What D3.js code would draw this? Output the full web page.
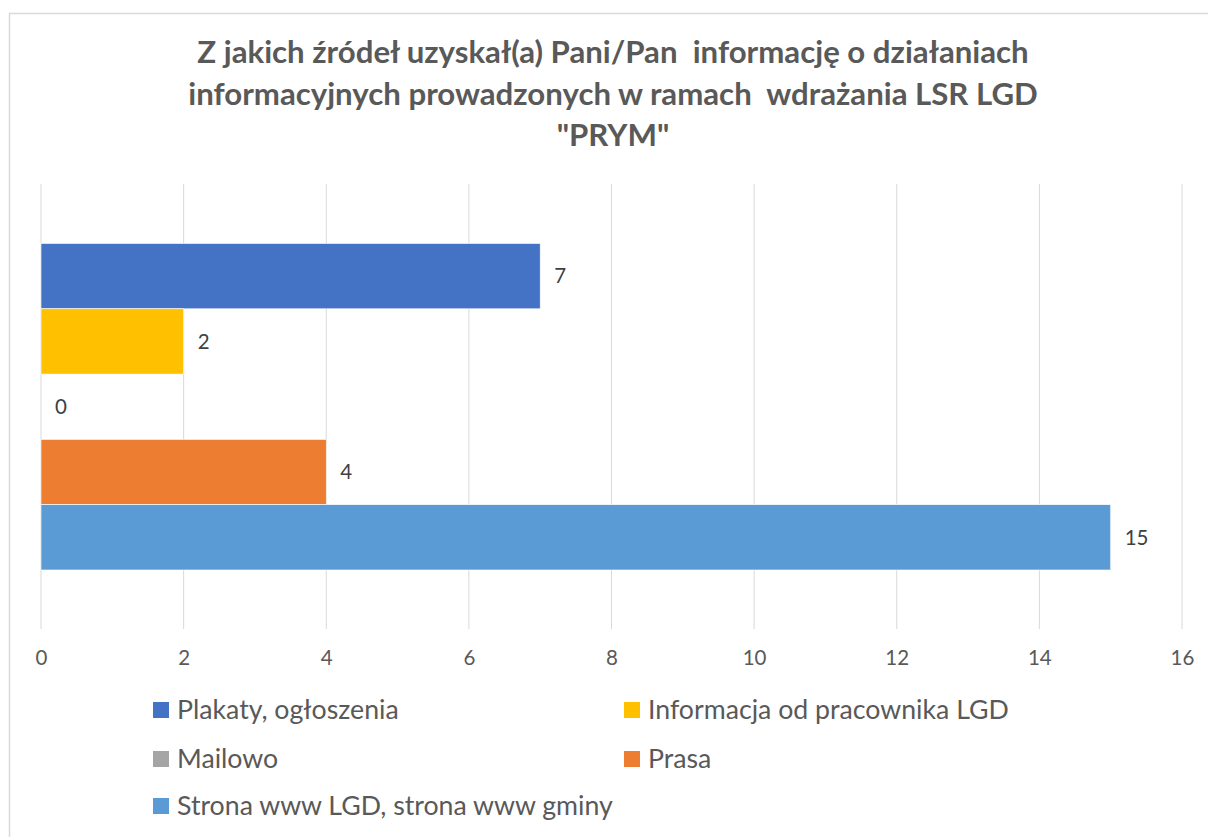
<!DOCTYPE html>
<html>
<head>
<meta charset="utf-8">
<script src="https://cdn.jsdelivr.net/npm/d3@7"></script>
<style>
  html, body { margin: 0; padding: 0; background: #fff; }
  svg { display: block; }
  text { font-family: Lato, "Open Sans", sans-serif; }
</style>
</head>
<body>
<svg id="chart" width="1208" height="837"></svg>
<script>
const titleLines = [
  "Z jakich źródeł uzyskał(a) Pani/Pan  informację o działaniach",
  "informacyjnych prowadzonych w ramach  wdrażania LSR LGD",
  "\"PRYM\""
];
const seriesNames = [
  "Plakaty, ogłoszenia",
  "Informacja od pracownika LGD",
  "Mailowo",
  "Prasa",
  "Strona www LGD, strona www gminy"
];
const seriesValues = [7, 2, 0, 4, 15];
const seriesColors = ["#4472C4", "#FFC000", "#A5A5A5", "#ED7D31", "#5B9BD5"];
const xTicks = [0, 2, 4, 6, 8, 10, 12, 14, 16];

const svg = d3.select("#chart");
const W = 1208, H = 837;

// chart border
svg.append("rect")
  .attr("x", 9.5).attr("y", 13.5)
  .attr("width", W + 10).attr("height", H + 10)
  .attr("fill", "#fff").attr("stroke", "#D9D9D9").attr("stroke-width", 1.5);

// title
const title = svg.append("text")
  .attr("text-anchor", "middle")
  .attr("fill", "#595959")
  .attr("font-weight", "bold")
  .attr("font-size", 31.2)
  .style("white-space", "pre");
titleLines.forEach((t, i) => {
  title.append("tspan").attr("x", 613).attr("y", 63 + i * 41.5).text(t);
});

// scales
const x = d3.scaleLinear().domain([0, 16]).range([41, 1182]);
const plotTop = 184, plotBottom = 629;
const y = d3.scaleBand().domain(seriesNames).range([243.5, 570]).padding(0);

// gridlines
svg.append("g")
  .selectAll("line")
  .data(xTicks)
  .join("line")
  .attr("x1", d => x(d)).attr("x2", d => x(d))
  .attr("y1", plotTop).attr("y2", plotBottom)
  .attr("stroke", "#D9D9D9").attr("stroke-width", 1);

// bars
const data = seriesNames.map((n, i) => ({ name: n, value: seriesValues[i], color: seriesColors[i] }));
svg.append("g")
  .selectAll("rect")
  .data(data.filter(d => d.value > 0))
  .join("rect")
  .attr("x", x(0))
  .attr("y", d => y(d.name))
  .attr("width", d => x(d.value) - x(0))
  .attr("height", y.bandwidth())
  .attr("fill", d => d.color)
  .attr("stroke", "#fff").attr("stroke-width", 0.6);

// data labels
svg.append("g")
  .selectAll("text")
  .data(data)
  .join("text")
  .attr("x", d => x(d.value) + 14)
  .attr("y", d => y(d.name) + y.bandwidth() / 2)
  .attr("dy", "0.35em")
  .attr("fill", "#404040")
  .attr("font-size", 20.5)
  .text(d => d.value);

// x axis labels
const xAxis = d3.axisBottom(x).tickValues(xTicks).tickSize(0).tickPadding(0);
const gx = svg.append("g").attr("transform", `translate(0, ${plotBottom})`).call(xAxis);
gx.select(".domain").remove();
gx.selectAll("text")
  .attr("y", 36)
  .attr("dy", 0)
  .attr("fill", "#595959")
  .attr("font-size", 20.5)
  .attr("font-family", "Lato, 'Open Sans', sans-serif");

// legend
const legendCols = [153, 624];
const legendRows = [710, 759, 806];
const lg = svg.append("g")
  .selectAll("g")
  .data(data)
  .join("g")
  .attr("transform", (d, i) => `translate(${legendCols[i % 2]}, ${legendRows[Math.floor(i / 2)]})`);
lg.append("rect")
  .attr("x", 0).attr("y", -8)
  .attr("width", 16).attr("height", 16)
  .attr("fill", d => d.color);
lg.append("text")
  .attr("x", 24)
  .attr("y", 0)
  .attr("dy", "0.35em")
  .attr("fill", "#595959")
  .attr("font-size", 26.7)
  .text(d => d.name);
</script>
</body>
</html>
